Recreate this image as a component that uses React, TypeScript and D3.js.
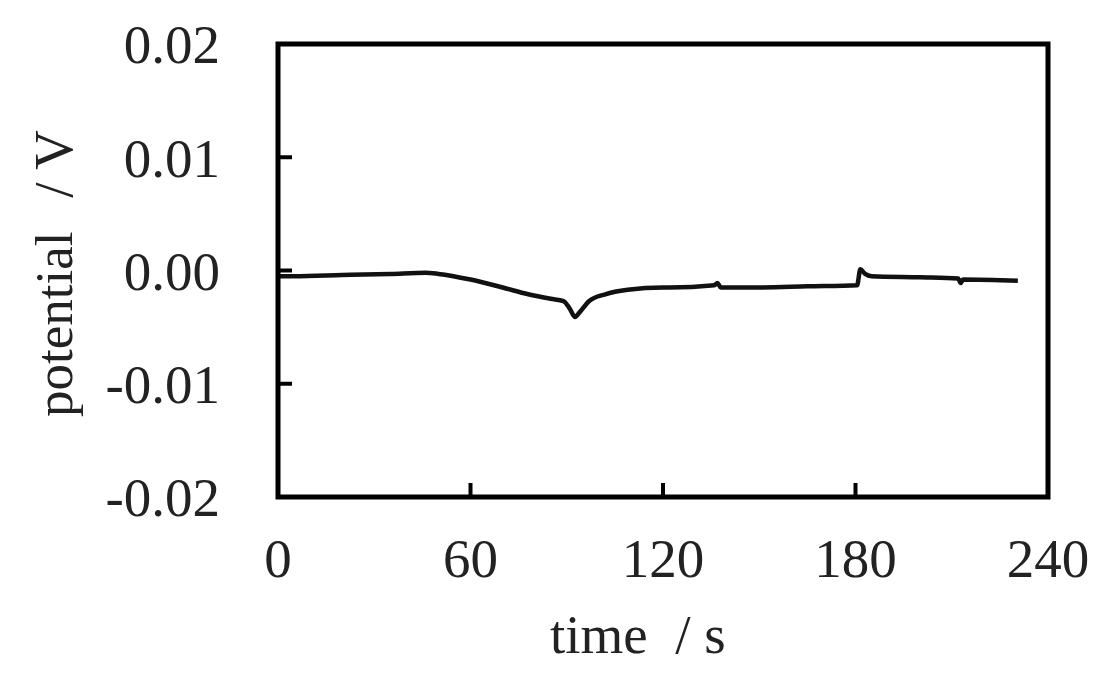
import React from "react";
import * as d3 from "d3";

const times = [0, 5, 20, 35, 46, 50, 60, 70, 78, 85, 89, 91, 92.6, 94, 97, 102, 109, 120, 122, 136, 137, 138, 150, 165, 180.5, 181.5, 183, 185, 200, 212, 212.8, 213.5, 230.6];
const potentials = [-0.0005, -0.0005, -0.0004, -0.0003, -0.0002, -0.0003, -0.0008, -0.0015, -0.0021, -0.0025, -0.0027, -0.0034, -0.0041, -0.0037, -0.0027, -0.0021, -0.0017, -0.0015, -0.0015, -0.0013, -0.0011, -0.0015, -0.0015, -0.0014, -0.0013, 0.0001, -0.0003, -0.0005, -0.0006, -0.0007, -0.0011, -0.0008, -0.0009];
const xTicks = [0, 60, 120, 180, 240];
const yTicks = [0.02, 0.01, 0, -0.01, -0.02];
const yTickLabels = ["0.02", "0.01", "0.00", "-0.01", "-0.02"];

export default function App() {
  const W = 1110, H = 680;
  const left = 278, right = 1048, top = 44, bottom = 497;
  const x = d3.scaleLinear().domain([0, 240]).range([left, right]);
  const y = d3.scaleLinear().domain([-0.02, 0.02]).range([bottom, top]);
  const data = times.map((t, i) => [t, potentials[i]] as [number, number]);
  const line = d3.line<[number, number]>().x(d => x(d[0])).y(d => y(d[1])).curve(d3.curveMonotoneX);
  const font = "'Liberation Serif', 'Times New Roman', serif";
  const tickLen = 14;
  return (
    <svg width={W} height={H} style={{ position: "absolute", left: 0, top: 0, background: "#fff" }}>
      <rect x={0} y={0} width={W} height={H} fill="#fff" />
      <path d={line(data) || ""} fill="none" stroke="#111" strokeWidth={4.5} strokeLinejoin="round" />
      {yTicks.slice(1, 4).map(v => (
        <line key={"yt" + v} x1={left} x2={left + tickLen} y1={y(v)} y2={y(v)} stroke="#000" strokeWidth={4} />
      ))}
      {xTicks.slice(1, 4).map(v => (
        <line key={"xt" + v} x1={x(v)} x2={x(v)} y1={bottom} y2={bottom - tickLen} stroke="#000" strokeWidth={4} />
      ))}
      <rect x={left} y={top} width={right - left} height={bottom - top} fill="none" stroke="#000" strokeWidth={5} />
      {yTicks.map((v, i) => (
        <text key={"yl" + v} x={220} y={y(v)} dy="0.35em" textAnchor="end" fontFamily={font} fontSize={55} fill="#222">
          {yTickLabels[i]}
        </text>
      ))}
      {xTicks.map(v => (
        <text key={"xl" + v} x={x(v)} y={577} textAnchor="middle" fontFamily={font} fontSize={55} fill="#222">
          {String(v)}
        </text>
      ))}
      <text x={550} y={653} textAnchor="start" fontFamily={font} fontSize={55} fill="#222" style={{ whiteSpace: "pre" }}>
        {"time  / s"}
      </text>
      <text transform={`translate(72, 417) rotate(-90)`} textAnchor="start" fontFamily={font} fontSize={53} fill="#222">
        {"potential"}
      </text>
      <text transform={`translate(72, 130) rotate(-90)`} textAnchor="end" fontFamily={font} fontSize={55} fill="#222" style={{ whiteSpace: "pre" }}>
        {"/ V"}
      </text>
    </svg>
  );
}
